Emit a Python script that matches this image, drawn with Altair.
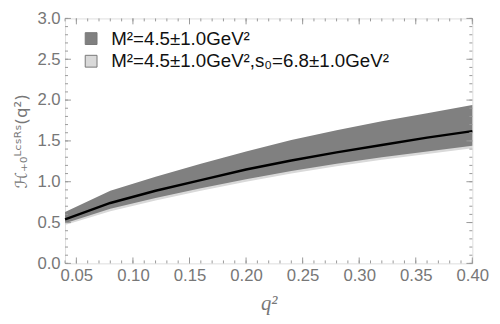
import altair as alt
import pandas as pd

q = [0.04, 0.08, 0.12, 0.16, 0.20, 0.24, 0.28, 0.32, 0.36, 0.40]
center = [0.54, 0.74, 0.89, 1.02, 1.15, 1.26, 1.36, 1.45, 1.54, 1.62]
dark_hi = [0.63, 0.89, 1.06, 1.22, 1.37, 1.51, 1.63, 1.74, 1.84, 1.94]
dark_lo = [0.49, 0.67, 0.80, 0.92, 1.03, 1.13, 1.22, 1.30, 1.37, 1.44]
light_hi = [0.62, 0.87, 1.04, 1.20, 1.35, 1.49, 1.61, 1.72, 1.82, 1.92]
light_lo = [0.47, 0.64, 0.77, 0.89, 1.00, 1.10, 1.19, 1.27, 1.34, 1.41]

labels = ["M²=4.5±1.0GeV²", "M²=4.5±1.0GeV²,s₀=6.8±1.0GeV²"]
colors = ["#808080", "#d9d9d9"]

x_major = [0.05, 0.10, 0.15, 0.20, 0.25, 0.30, 0.35, 0.40]
x_minor = [round(0.04 + 0.01 * i, 2) for i in range(37)]
y_major = [0.0, 0.5, 1.0, 1.5, 2.0, 2.5, 3.0]
y_minor = [round(0.1 * i, 1) for i in range(31)]

W, H = 414, 249
GRAY = "#999999"
LABEL = "#777777"

dark = pd.DataFrame({"q": q, "lo": dark_lo, "hi": dark_hi, "band": labels[0]})
light = pd.DataFrame({"q": q, "lo": light_lo, "hi": light_hi, "band": labels[1]})
line = pd.DataFrame({"q": q, "c": center})

xs = alt.Scale(domain=[0.04, 0.40], nice=False, zero=False)
ys = alt.Scale(domain=[0, 3.0], nice=False)
cs = alt.Scale(domain=labels, range=colors)

legend = alt.Legend(
    title=None, orient="none", legendX=17, legendY=11, padding=0,
    symbolType="square", symbolSize=144, symbolStrokeColor="#777777",
    symbolStrokeWidth=1, symbolOpacity=1,
    labelFont="Liberation Sans", labelFontSize=19, labelColor="#111111",
    labelOffset=11, rowPadding=3, labelLimit=0,
)

xaxis = alt.Axis(values=x_major, format=".2f", ticks=False, domain=False, grid=False,
                 labelFlush=False,
                 labelFont="Liberation Sans", labelFontSize=17, labelColor=LABEL,
                 labelPadding=4, title="q²", titleFont="Liberation Serif",
                 titleFontStyle="italic", titleFontWeight="normal", titleFontSize=21,
                 titleColor=LABEL, titlePadding=10)
yaxis = alt.Axis(values=y_major, format=".1f", ticks=False, domain=False, grid=False,
                 labelFlush=False,
                 labelFont="Liberation Sans", labelFontSize=17, labelColor=LABEL,
                 labelPadding=5, title="ℋ₊₀ᴸᶜˢᴿˢ(q²)", titleFont="DejaVu Sans",
                 titleFontWeight="normal", titleFontSize=17,
                 titleColor=LABEL, titlePadding=7)

light_l = alt.Chart(light).mark_area(opacity=1).encode(
    x=alt.X("q:Q", scale=xs, axis=xaxis),
    y=alt.Y("lo:Q", scale=ys, axis=yaxis),
    y2="hi:Q",
    color=alt.Color("band:N", scale=cs, legend=legend),
)
dark_l = alt.Chart(dark).mark_area(opacity=1).encode(
    x=alt.X("q:Q", scale=xs),
    y=alt.Y("lo:Q", scale=ys),
    y2="hi:Q",
    color=alt.Color("band:N", scale=cs, legend=legend),
)
line_l = alt.Chart(line).mark_line(color="black", strokeWidth=2.5).encode(
    x=alt.X("q:Q", scale=xs),
    y=alt.Y("c:Q", scale=ys),
)

def xticks(vals, length):
    d = pd.DataFrame({"t": vals})
    b = alt.Chart(d).mark_rule(color=GRAY, strokeWidth=1).encode(
        x=alt.X("t:Q", scale=xs), y=alt.value(H), y2=alt.value(H - length))
    t = alt.Chart(d).mark_rule(color=GRAY, strokeWidth=1).encode(
        x=alt.X("t:Q", scale=xs), y=alt.value(0), y2=alt.value(length))
    return [b, t]

def yticks(vals, length):
    d = pd.DataFrame({"t": vals})
    l = alt.Chart(d).mark_rule(color=GRAY, strokeWidth=1).encode(
        y=alt.Y("t:Q", scale=ys), x=alt.value(0), x2=alt.value(length))
    r = alt.Chart(d).mark_rule(color=GRAY, strokeWidth=1).encode(
        y=alt.Y("t:Q", scale=ys), x=alt.value(W), x2=alt.value(W - length))
    return [l, r]

ticks = xticks(x_minor, 3) + xticks(x_major, 6) + yticks(y_minor, 3) + yticks(y_major, 6)

chart = alt.layer(light_l, dark_l, line_l, *ticks).properties(
    width=W, height=H,
    autosize=alt.AutoSizeParams(type="none"),
    padding={"left": 58, "top": 8, "right": 20, "bottom": 58},
).configure_view(stroke=GRAY, strokeWidth=1).configure(background="white")

chart.save("out.html", embed_options={"renderer": "svg", "actions": False})
